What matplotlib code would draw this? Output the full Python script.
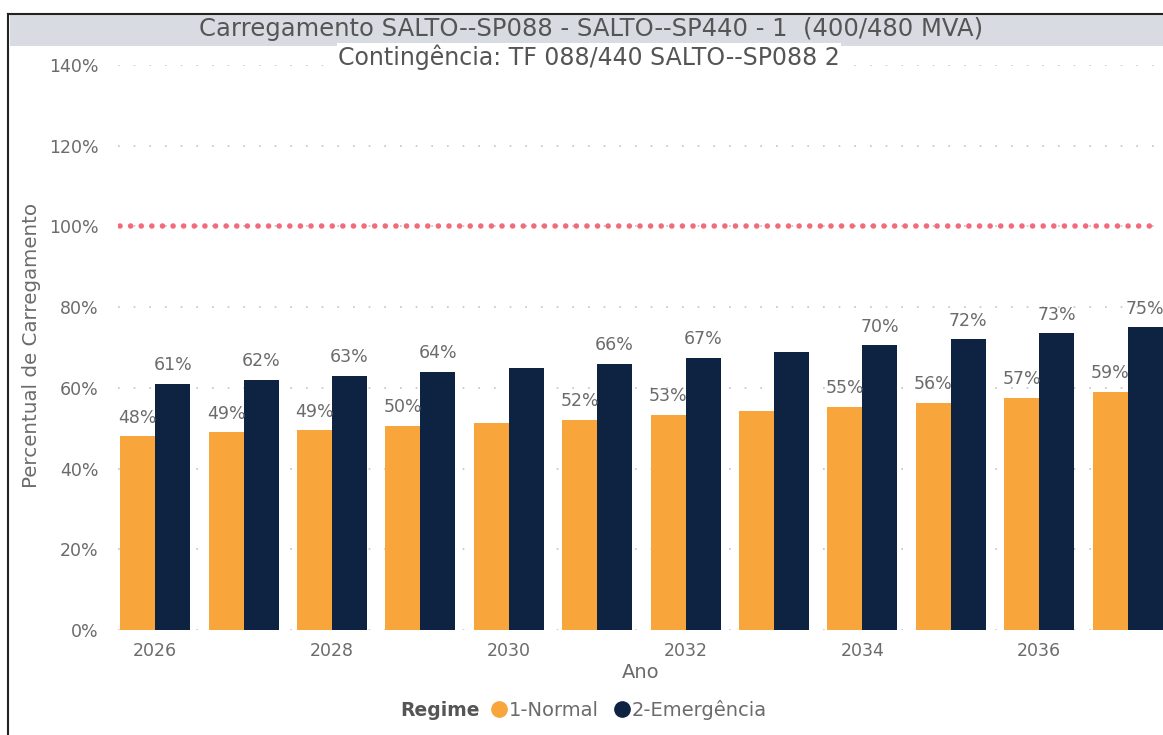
import matplotlib
matplotlib.use('Agg')
import matplotlib.pyplot as plt
from matplotlib.patches import Rectangle
import numpy as np

plt.rcParams['font.family'] = ['DejaVu Sans']

# dados
anos = [2026, 2027, 2028, 2029, 2030, 2031, 2032, 2033, 2034, 2035, 2036, 2037]
normal = [48, 49, 49.5, 50.5, 51.2, 52, 53.3, 54.3, 55.3, 56.3, 57.5, 59]
emergencia = [61, 62, 63, 64, 65, 66, 67.5, 69, 70.5, 72, 73.5, 75]
# rótulos visíveis ('' = sem rótulo)
rot_normal = ['48%', '49%', '49%', '50%', '', '52%', '53%', '', '55%', '56%', '57%', '59%']
rot_emerg = ['61%', '62%', '63%', '64%', '', '66%', '67%', '', '70%', '72%', '73%', '75%']
anos_ticks = [2026, 2028, 2030, 2032, 2034, 2036]

cor_normal = '#F8A53B'
cor_emerg = '#0E2241'
cor_texto = '#6B6B6B'

fig = plt.figure(figsize=(11.63, 7.35), dpi=100)
W, H = 1163, 735

# borda e faixa do título
fig.add_artist(plt.Line2D([8 / W, 8 / W], [0, 1 - 14 / H], color='#222222', lw=1.5))
fig.add_artist(plt.Line2D([8 / W, 1], [1 - 14 / H, 1 - 14 / H], color='#222222', lw=1.5))
fig.add_artist(Rectangle((10 / W, 1 - 46 / H), 1 - 10 / W, 31 / H, facecolor='#D8DCE2',
                         edgecolor='none', transform=fig.transFigure))
fig.text(591 / W, 1 - 29 / H, 'Carregamento SALTO--SP088 - SALTO--SP440 - 1  (400/480 MVA)',
         ha='center', va='center', fontsize=17.5, color='#555555')
fig.text(589 / W, 1 - 57 / H, 'Contingência: TF 088/440 SALTO--SP088 2',
         ha='center', va='center', fontsize=17, color='#555555', zorder=5,
         bbox=dict(facecolor='white', edgecolor='none', pad=1))

ax = fig.add_axes([118 / W, 105 / H, (W - 118) / W, (630 - 65) / H])
x = np.arange(len(anos))
larg = 0.396
b1 = ax.bar(x - larg / 2, normal, larg, color=cor_normal, zorder=3)
b2 = ax.bar(x + larg / 2, emergencia, larg, color=cor_emerg, zorder=3)

for barras, rots in ((b1, rot_normal), (b2, rot_emerg)):
    for b, r in zip(barras, rots):
        if r:
            ax.annotate(r, (b.get_x() + b.get_width() / 2, b.get_height()),
                        xytext=(0, 7), textcoords='offset points', ha='center', va='bottom',
                        fontsize=12.5, color=cor_texto, zorder=4)

# limite de 100%
ax.plot([-0.4, 11.33], [100, 100], color='#F26B7A', lw=4, ls=(0, (0.01, 1.9)),
        dash_capstyle='round', zorder=2)

ax.set_xlim(-0.42, 11.40)
ax.set_ylim(0, 140)
ax.set_yticks(range(0, 141, 20))
ax.set_yticklabels([f'{v}%' for v in range(0, 141, 20)])
ax.set_xticks([anos.index(a) for a in anos_ticks])
ax.set_xticklabels([str(a) for a in anos_ticks])
ax.yaxis.grid(True, color='#C4C4C4', ls=(0, (1, 8.4)), lw=1.2)
ax.set_axisbelow(True)
for s in ax.spines.values():
    s.set_visible(False)
ax.tick_params(length=0, labelsize=12.5, labelcolor=cor_texto)
ax.tick_params(axis='y', pad=14)
ax.tick_params(axis='x', pad=9)
ax.set_xlabel('Ano', fontsize=14, color=cor_texto, labelpad=2)
fig.text(32 / W, 1 - 345 / H, 'Percentual de Carregamento', rotation=90, ha='center',
         va='center', fontsize=14.3, color=cor_texto)

# legenda
fig.text(440 / W, 1 - 710 / H, 'Regime', ha='center', va='center', fontsize=13.5,
         fontweight='bold', color='#555555')
fig.add_artist(plt.Line2D([499 / W], [1 - 709 / H], marker='o', ms=11, color=cor_normal, ls=''))
fig.text(509 / W, 1 - 710 / H, '1-Normal', ha='left', va='center', fontsize=14, color=cor_texto)
fig.add_artist(plt.Line2D([622 / W], [1 - 709 / H], marker='o', ms=11, color=cor_emerg, ls=''))
fig.text(632 / W, 1 - 710 / H, '2-Emergência', ha='left', va='center', fontsize=14, color=cor_texto)

fig.savefig('out.png', dpi=100)
